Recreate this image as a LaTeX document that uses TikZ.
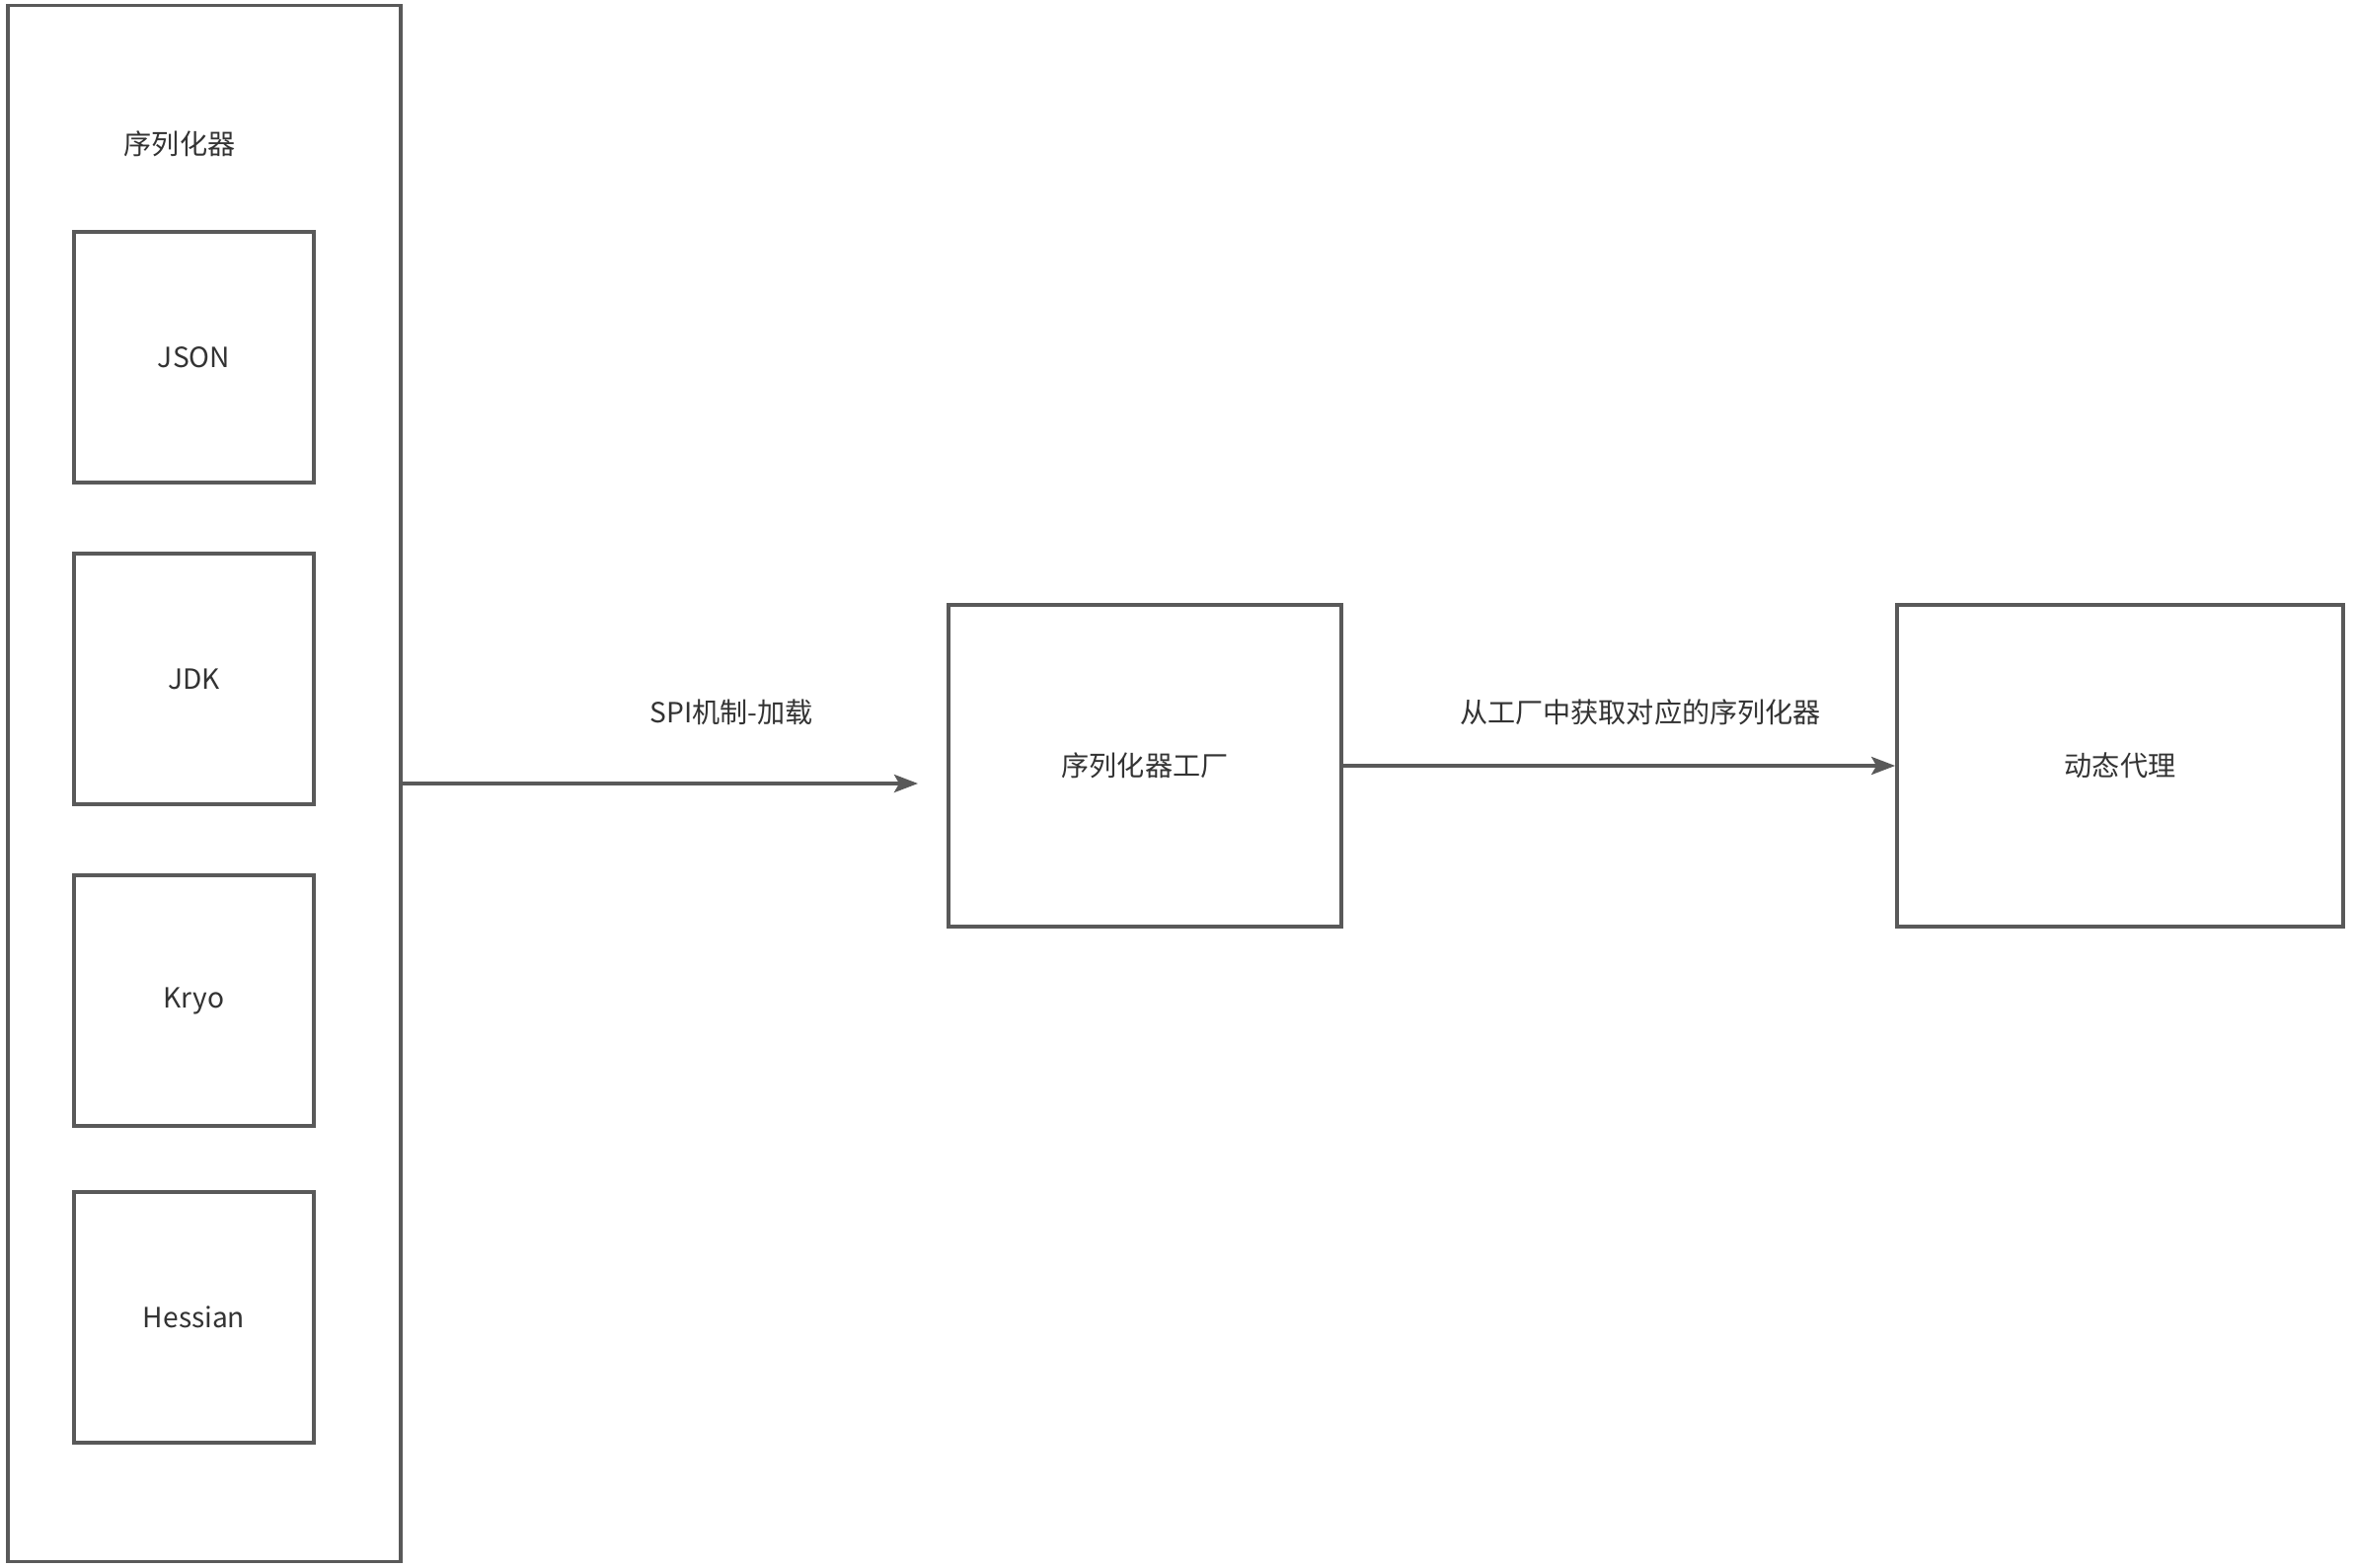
\documentclass[tikz,border=0pt]{standalone}
\usepackage{fontspec}
\setmainfont{Noto Sans CJK SC}
\usetikzlibrary{arrows.meta}
\definecolor{edge}{HTML}{595959}
\definecolor{ink}{HTML}{333333}
\begin{document}
\begin{tikzpicture}[x=0.01cm,y=-0.01cm,
  font=\fontsize{8}{10}\selectfont,
  box/.style={draw=edge,line width=1pt,fill=white,inner sep=0pt,text=ink},
  label/.style={text=ink,inner sep=0pt},
  link/.style={draw=edge,line width=1pt,-{Stealth[length=0.24cm,width=0.18cm,inset=0.05cm]}}]
  \useasboundingbox[fill=white] (0,0) rectangle (2386,1588);

  % serializer container and its implementations
  \node[box,minimum width=3.98cm,minimum height=15.76cm] (group) at (207,794) {};
  \node[label] (grouptitle) at (182,146) {序列化器};
  \node[box,minimum width=2.43cm,minimum height=2.54cm] (json) at (196.5,362) {JSON};
  \node[box,minimum width=2.43cm,minimum height=2.54cm] (jdk) at (196.5,688) {JDK};
  \node[box,minimum width=2.43cm,minimum height=2.54cm] (kryo) at (196.5,1014) {Kryo};
  \node[box,minimum width=2.43cm,minimum height=2.54cm] (hessian) at (196.5,1335) {Hessian};

  % factory and proxy
  \node[box,minimum width=3.98cm,minimum height=3.26cm] (factory) at (1160,776) {序列化器工厂};
  \node[box,minimum width=4.52cm,minimum height=3.26cm] (proxy) at (2148,776) {动态代理};

  % connectors
  \coordinate (spiend) at (930,794);
  \draw[link] (group.east) -- (spiend);
  \node[label] (spilabel) at (741,722) {SPI机制-加载};

  \draw[link] (factory.east) -- (proxy.west);
  \node[label] (getlabel) at (1662,722) {从工厂中获取对应的序列化器};
\end{tikzpicture}
\end{document}
